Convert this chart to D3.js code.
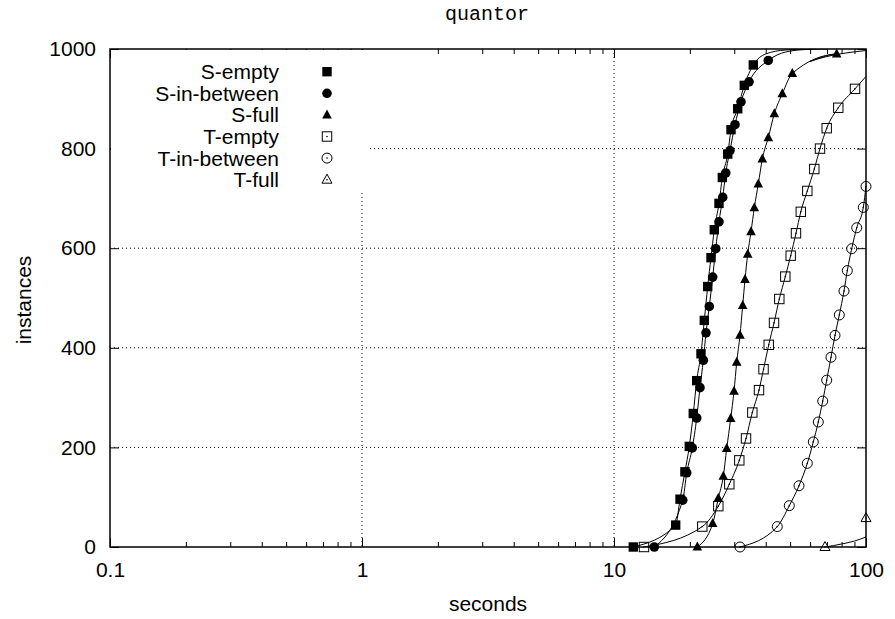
<!DOCTYPE html>
<html><head><meta charset="utf-8">
<script src="https://cdn.jsdelivr.net/npm/d3@7"></script>
<style>body{margin:0;background:#fff} svg{display:block}</style>
</head><body><svg id="c" width="895" height="619"></svg>
<script>
const title = "quantor";
const xLabel = "seconds";
const yLabel = "instances";
const seriesNames = ["S-empty","S-in-between","S-full","T-empty","T-in-between","T-full"];
const xTicks = [0.1, 1, 10, 100];
const xTickLabels = ["0.1", "1", "10", "100"];
const yTicks = [0, 200, 400, 600, 800, 1000];

// markers: [seconds, instances]
const sEmpty = [[11.93,0],[17.57,44],[18.28,96],[19.12,151],[19.90,202],[20.64,268],[21.29,334],[22.14,388],[22.82,455],[23.54,523],[24.26,581],[25.00,637],[26.10,690],[26.91,742],[28.27,789],[29.13,838],[30.97,880],[32.89,927],[35.71,968]];
const sInBetween = [[14.45,0],[18.74,94],[19.44,149],[20.45,199],[21.29,259],[21.94,320],[22.62,375],[23.18,430],[23.89,483],[24.64,542],[25.33,599],[26.10,653],[27.00,702],[27.76,751],[28.86,796],[30.21,848],[31.91,894],[34.34,934],[40.95,977]];
const sFull = [[21.41,0],[24.64,47],[25.94,98],[27.15,142],[28.01,198],[29.05,258],[29.94,313],[30.69,371],[31.62,425],[32.41,485],[33.10,537],[33.93,588],[34.97,633],[36.04,681],[37.38,729],[38.78,779],[40.95,822],[43.27,870],[46.55,910],[51.00,951],[76.49,990]];
const tEmpty = [[13.15,0],[22.41,41],[25.94,82],[28.68,126],[31.42,174],[33.41,218],[35.39,270],[37.62,315],[39.21,357],[41.11,406],[43.15,450],[45.29,498],[47.84,543],[50.25,585],[52.74,630],[55.11,673],[58.49,715],[62.35,759],[65.68,800],[69.83,841],[77.63,882],[90.45,920]];
const tInBetween = [[31.62,0],[44.46,41],[49.61,83],[54.21,123],[58.49,168],[61.79,211],[64.67,251],[67.33,293],[69.83,335],[72.62,381],[75.34,425],[78.35,466],[81.79,514],[84.30,555],[87.77,599],[91.87,641],[97.57,682],[100,724]];
const tFull = [[68.75,0],[100,58]];

// extra points of the fitted lines beyond the markers
const sEmptyTail = [[40,990],[48,998],[60,1000]];
const sInBetweenTail = [[48,994],[58,999],[70,1000]];
const sFullTail = [[60,975],[100,997]];
const tEmptyTail = [[100,945]];
const tInBetweenTail = [];
const tFullLine = [[68.75,0],[80,6],[90,12],[100,20]];

const svg = d3.select("#c");
const L = 110, R = 866, T = 49, B = 547;
const x = d3.scaleLog().domain([0.1, 100]).range([L, R]);
const y = d3.scaleLinear().domain([0, 1000]).range([B, T]);
const font = "'Liberation Sans', Arial, sans-serif";
const fs = 21;

// grid
const gGrid = svg.append("g").attr("stroke", "#000").attr("stroke-width", 1).attr("stroke-dasharray", "1,3");
gGrid.selectAll("line.v").data([1, 10]).join("line")
  .attr("x1", d => x(d)).attr("x2", d => x(d)).attr("y1", T).attr("y2", B);
gGrid.selectAll("line.h").data([200, 400, 600, 800]).join("line")
  .attr("x1", L).attr("x2", R).attr("y1", d => y(d)).attr("y2", d => y(d));

// minor ticks
const minor = [];
for (const dec of [0.1, 1, 10]) for (let k = 2; k <= 9; k++) minor.push(+(dec * k).toPrecision(3));

function styleAxis(g) {
  g.select(".domain").remove();
  g.selectAll(".tick line").attr("stroke", "#000").attr("stroke-width", 1);
  g.selectAll("text").attr("font-family", font).attr("font-size", fs).attr("fill", "#000");
}
svg.append("g").attr("transform", `translate(0,${B})`)
  .call(d3.axisBottom(x).tickValues(xTicks).tickFormat((d, i) => xTickLabels[i]).tickSize(-9).tickPadding(15))
  .call(styleAxis);
svg.append("g").attr("transform", `translate(0,${B})`)
  .call(d3.axisBottom(x).tickValues(minor).tickFormat("").tickSize(-5)).call(styleAxis);
svg.append("g").attr("transform", `translate(0,${T})`)
  .call(d3.axisTop(x).tickValues(xTicks).tickFormat("").tickSize(-9)).call(styleAxis);
svg.append("g").attr("transform", `translate(0,${T})`)
  .call(d3.axisTop(x).tickValues(minor).tickFormat("").tickSize(-5)).call(styleAxis);
svg.append("g").attr("transform", `translate(${L},0)`)
  .call(d3.axisLeft(y).tickValues(yTicks).tickFormat(d3.format("d")).tickSize(-9).tickPadding(14))
  .call(styleAxis);
svg.append("g").attr("transform", `translate(${R},0)`)
  .call(d3.axisRight(y).tickValues(yTicks).tickFormat("").tickSize(-9)).call(styleAxis);

// legend background (hides grid)
svg.append("rect").attr("x", L + 1).attr("y", T + 1).attr("width", 257).attr("height", 142).attr("fill", "#fff");

// clip for lines
svg.append("clipPath").attr("id", "clip").append("rect").attr("x", L).attr("y", T).attr("width", R - L).attr("height", B - T);

const line = d3.line().x(d => x(d[0])).y(d => y(d[1])).curve(d3.curveMonotoneX);
const lines = [
  sEmpty.concat(sEmptyTail), sInBetween.concat(sInBetweenTail), sFull.concat(sFullTail),
  tEmpty.concat(tEmptyTail), tInBetween.concat(tInBetweenTail), tFullLine
];
svg.append("g").attr("clip-path", "url(#clip)").selectAll("path").data(lines).join("path")
  .attr("d", line).attr("fill", "none").attr("stroke", "#000").attr("stroke-width", 1);

// marker shapes
function marker(g, type) {
  const s = 4.7;
  if (type === 0) g.append("rect").attr("x", -s).attr("y", -s).attr("width", 2 * s).attr("height", 2 * s).attr("fill", "#000");
  if (type === 1) g.append("circle").attr("r", 4.8).attr("fill", "#000");
  if (type === 2) g.append("path").attr("d", "M0,-5.5L4.8,3.5L-4.8,3.5Z").attr("fill", "#000");
  if (type === 3) g.append("rect").attr("x", -s).attr("y", -s).attr("width", 2 * s).attr("height", 2 * s).attr("fill", "none").attr("stroke", "#000").attr("stroke-width", 1);
  if (type === 4) g.append("circle").attr("r", 5).attr("fill", "none").attr("stroke", "#000").attr("stroke-width", 1);
  if (type === 5) g.append("path").attr("d", "M0,-5.5L5,3.5L-5,3.5Z").attr("fill", "none").attr("stroke", "#000").attr("stroke-width", 1);
  if (type >= 3) g.append("circle").attr("r", 0.8).attr("fill", "#000");
}
const markerData = [sEmpty, sInBetween, sFull, tEmpty, tInBetween, tFull];
markerData.forEach((pts, si) => {
  svg.append("g").selectAll("g").data(pts).join("g")
    .attr("transform", d => `translate(${x(d[0])},${y(d[1])})`)
    .each(function () { marker(d3.select(this), si); });
});

// legend
const lg = svg.append("g");
seriesNames.forEach((name, i) => {
  const yy = 71.7 + i * 21.6;
  lg.append("text").attr("x", 279).attr("y", yy).attr("dy", "0.36em").attr("text-anchor", "end")
    .attr("font-family", font).attr("font-size", fs).text(name);
  const g = lg.append("g").attr("transform", `translate(327,${yy})`);
  marker(g, i);
});

// frame
svg.append("rect").attr("x", L).attr("y", T).attr("width", R - L).attr("height", B - T)
  .attr("fill", "none").attr("stroke", "#000").attr("stroke-width", 1.5);

// titles
svg.append("text").attr("x", 487).attr("y", 20).attr("text-anchor", "middle")
  .attr("font-family", "'Liberation Mono', 'Courier New', monospace").attr("font-size", 20).text(title);
svg.append("text").attr("x", 488).attr("y", 611).attr("text-anchor", "middle")
  .attr("font-family", font).attr("font-size", fs).text(xLabel);
svg.append("text").attr("transform", "translate(31,300) rotate(-90)").attr("text-anchor", "middle")
  .attr("font-family", font).attr("font-size", fs).text(yLabel);
</script></body></html>
